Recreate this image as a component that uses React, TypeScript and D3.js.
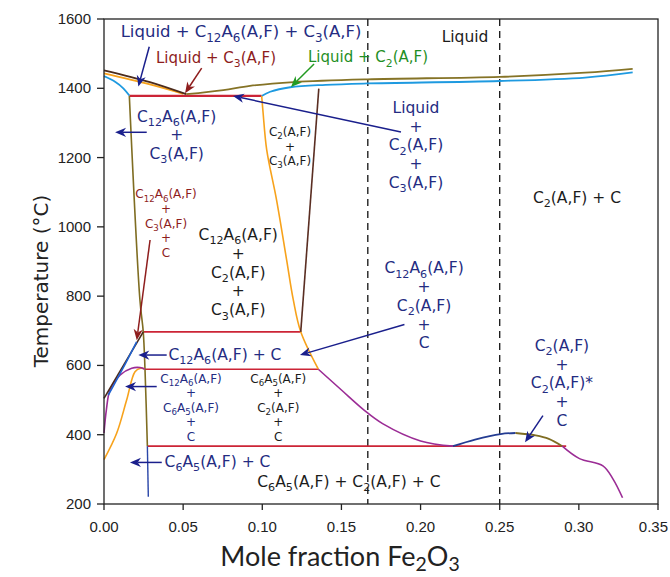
import React from 'react';
import * as d3 from 'd3';

// phase diagram, CaO-Al2O3-Fe2O3 section; points are [mole fraction Fe2O3, T in °C]
const xTicks = [0, 0.05, 0.1, 0.15, 0.2, 0.25, 0.3, 0.35];
const yTicks = [200, 400, 600, 800, 1000, 1200, 1400, 1600];
const dashedAt = [1 / 6, 0.25];

const liquidusLeft = [[0, 1452], [0.029, 1418], [0.052, 1383]];
const orangeTop = [[0, 1443], [0.029, 1411], [0.05, 1384]];
const cyanLeft = [[0, 1435], [0.007, 1419], [0.0122, 1400], [0.016, 1379]];
const liquidusRight = [[0.052, 1383], [0.0754, 1395], [0.0922, 1407], [0.1198, 1418], [0.1664, 1426], [0.25, 1433], [0.304, 1445], [0.334, 1456]];
const cyanRight = [[0.0996, 1378], [0.105, 1390], [0.1177, 1403], [0.14, 1410], [0.1664, 1414], [0.25, 1421], [0.304, 1431], [0.334, 1446]];

const c12a6Edge = [[0.016, 1378], [0.0227, 789], [0.0248, 697], [0.0259, 589], [0.0274, 367]];
const c6a5Edge = [[0.0274, 367], [0.028, 221]];
const c2Edge = [[0.1357, 1399], [0.1243, 697]];
const c2Orange = [[0.0996, 1378], [0.1005, 1330], [0.1028, 1222], [0.109, 1078], [0.1154, 904], [0.1196, 789], [0.1243, 697], [0.1354, 589]];

const purpleMid = [[0.1354, 589], [0.15, 529], [0.1643, 471], [0.176, 432], [0.2, 382], [0.2205, 367]];
const blueArc = [[0.2205, 367], [0.2344, 386], [0.2506, 402], [0.26, 405]];
const oliveArc = [[0.26, 405], [0.2727, 398], [0.281, 388], [0.2895, 367]];
const purpleRight = [[0.2895, 367], [0.3004, 331], [0.3152, 310], [0.3216, 272], [0.3276, 218]];

const brownLow = [[0, 505], [0.0248, 697]];
const blueLow = [[0.0027, 514], [0.012, 592], [0.0206, 668]];
const purpleLow = [[0, 405], [0.0015, 472], [0.0038, 529], [0.0101, 572], [0.0175, 592], [0.0227, 594], [0.0259, 589]];
const orangeLow = [[0, 328], [0.008, 404], [0.0143, 500], [0.0196, 582], [0.0232, 592], [0.0259, 589]];

// three-phase isotherms [x from, x to, T]
const tieLines = [
  [0.016, 0.0996, 1378],
  [0.0248, 0.1243, 697],
  [0.0259, 0.1354, 589],
  [0.0274, 0.292, 367],
];

// arrows [x0, t0, x1 (tip), t1, kind]
const arrows = [
  [0.0286, 1520, 0.0217, 1405, 'navy'],
  [0.0617, 1458, 0.0512, 1386, 'red'],
  [0.1327, 1470, 0.1181, 1404, 'green'],
  [0.1876, 1274, 0.0815, 1378, 'navy'],
  [0.027, 1273, 0.007, 1273, 'navy'],
  [0.0291, 962, 0.0207, 673, 'red'],
  [0.0396, 630, 0.0217, 630, 'navy'],
  [0.1898, 718, 0.1238, 630, 'navy'],
  [0.0333, 539, 0.0133, 539, 'navy'],
  [0.0365, 320, 0.0164, 320, 'navy'],
  [0.2773, 455, 0.266, 378, 'navy'],
];

const labels = [
  { lines: ['Liquid + C12A6(A,F) + C3(A,F)'], x: 0.0866, t: 1547, kind: 'navyTop' },
  { lines: ['Liquid + C3(A,F)'], x: 0.0708, t: 1474, kind: 'red' },
  { lines: ['Liquid + C2(A,F)'], x: 0.1668, t: 1475, kind: 'green' },
  { lines: ['Liquid'], x: 0.2281, t: 1534, kind: 'black' },
  { lines: ['Liquid', '+', 'C2(A,F)', '+', 'C3(A,F)'], x: 0.1971, t: 1329, kind: 'navy' },
  { lines: ['C2(A,F) + C'], x: 0.2988, t: 1069, kind: 'black' },
  { lines: ['C12A6(A,F)', '+', 'C3(A,F)'], x: 0.0459, t: 1304, kind: 'navy' },
  { lines: ['C2(A,F)', '+', 'C3(A,F)'], x: 0.1175, t: 1262, kind: 'blackSmall' },
  { lines: ['C12A6(A,F)', '+', 'C3(A,F)', '+', 'C'], x: 0.0392, t: 1082, kind: 'redSmall' },
  { lines: ['C12A6(A,F)', '+', 'C2(A,F)', '+', 'C3(A,F)'], x: 0.0848, t: 962, kind: 'black' },
  { lines: ['C12A6(A,F) + C'], x: 0.0764, t: 616, kind: 'navy' },
  { lines: ['C12A6(A,F)', '+', 'C6A5(A,F)', '+', 'C'], x: 0.055, t: 550, kind: 'navySmall' },
  { lines: ['C6A5(A,F)', '+', 'C2(A,F)', '+', 'C'], x: 0.1101, t: 550, kind: 'blackSmall' },
  { lines: ['C6A5(A,F) + C'], x: 0.0717, t: 308, kind: 'navy' },
  { lines: ['C6A5(A,F) + C2(A,F) + C'], x: 0.1547, t: 250, kind: 'black' },
  { lines: ['C12A6(A,F)', '+', 'C2(A,F)', '+', 'C'], x: 0.2022, t: 866, kind: 'navy' },
  { lines: ['C2(A,F)', '+', 'C2(A,F)*', '+', 'C'], x: 0.2893, t: 642, kind: 'navy' },
];

const NAVY = '#242c82';
const DARKRED = '#8e1d1d';
const GREEN = '#1f8f25';
const INK = '#1c1c1c';

const labelStyle = {
  navyTop: { size: 16.5, color: NAVY, gap: 19 },
  navy: { size: 15.5, color: NAVY, gap: 18.8 },
  red: { size: 15, color: DARKRED, gap: 19 },
  green: { size: 15, color: GREEN, gap: 19 },
  black: { size: 15.5, color: INK, gap: 18.8 },
  blackSmall: { size: 12, color: INK, gap: 14.5 },
  redSmall: { size: 12, color: DARKRED, gap: 14.6 },
  navySmall: { size: 12, color: NAVY, gap: 14.5 },
};
const arrowColor = { navy: '#1a1f8c', red: '#8e1d1d', green: '#229a22' };

const W = 670;
const H = 577;
const FONT = '"DejaVu Sans", Verdana, sans-serif';

// digits become subscripts
const Chem = ({ text, x, y, size, color, anchor = 'middle', family = FONT, drop = 0.28 }) => {
  const parts = text.split(/(\d+)/).filter(s => s !== '');
  let shift = 0;
  return (
    <text x={x} y={y} fontSize={size} fill={color} textAnchor={anchor} fontFamily={family}>
      {parts.map((p, i) => {
        const sub = /^\d+$/.test(p);
        const target = sub ? size * drop : 0;
        const dy = target - shift;
        shift = target;
        return <tspan key={i} dy={dy} fontSize={sub ? size * 0.72 : size}>{p}</tspan>;
      })}
    </text>
  );
};

const Arrow = ({ x0, y0, x1, y1, color }) => {
  const a = Math.atan2(y1 - y0, x1 - x0);
  const L = 11, hw = 4.6;
  const bx = x1 - L * Math.cos(a), by = y1 - L * Math.sin(a);
  const nx = x1 - L * 0.7 * Math.cos(a), ny = y1 - L * 0.7 * Math.sin(a);
  const px = -Math.sin(a) * hw, py = Math.cos(a) * hw;
  const head = `M${x1},${y1}L${bx + px},${by + py}L${nx},${ny}L${bx - px},${by - py}Z`;
  return (
    <g>
      <line x1={x0} y1={y0} x2={nx} y2={ny} stroke={color} strokeWidth={1.5} />
      <path d={head} fill={color} />
    </g>
  );
};

export default function App() {
  const x = d3.scaleLinear().domain([0, 0.35]).range([104, 658]);
  const y = d3.scaleLinear().domain([200, 1600]).range([504, 19]);

  const smooth = d3.line().x(d => x(d[0])).y(d => y(d[1])).curve(d3.curveCatmullRom.alpha(0.5));
  const straight = d3.line().x(d => x(d[0])).y(d => y(d[1]));

  const curves = [
    { pts: orangeTop, color: '#f7a21b', w: 1.8 },
    { pts: liquidusLeft, color: '#4b2b1c', w: 1.8 },
    { pts: cyanLeft, color: '#1e9ae0', w: 1.8 },
    { pts: liquidusRight, color: '#857326', w: 1.8 },
    { pts: cyanRight, color: '#1e9ae0', w: 1.8 },
    { pts: c12a6Edge, color: '#7f6d22', w: 1.6 },
    { pts: c6a5Edge, color: '#2a46a8', w: 1.4 },
    { pts: c2Orange, color: '#f7a21b', w: 1.6 },
    { pts: c2Edge, color: '#5a2e22', w: 1.6 },
    { pts: purpleMid, color: '#9b2c95', w: 1.6 },
    { pts: blueArc, color: '#243c92', w: 1.8 },
    { pts: oliveArc, color: '#7f6d22', w: 1.8 },
    { pts: purpleRight, color: '#9b2c95', w: 1.6 },
    { pts: orangeLow, color: '#f7a21b', w: 1.6 },
    { pts: purpleLow, color: '#9b2c95', w: 1.6 },
    { pts: brownLow, color: '#4b2b1c', w: 1.6 },
    { pts: blueLow, color: '#2062d0', w: 1.6 },
  ];

  const tickFont = '"Liberation Sans", Arial, sans-serif';
  const lastX = xTicks[xTicks.length - 1];

  return (
    <svg width={W} height={H} style={{ position: 'absolute', left: 0, top: 0, background: '#fff' }}>
      <rect width={W} height={H} fill="#fff" />

      {dashedAt.map((d, i) => (
        <line key={'d' + i} x1={x(d)} x2={x(d)} y1={y(1600)} y2={y(200)}
          stroke="#111" strokeWidth={1.3} strokeDasharray="7,5" />
      ))}

      {tieLines.map((l, i) => (
        <line key={'t' + i} x1={x(l[0])} x2={x(l[1])} y1={y(l[2])} y2={y(l[2])}
          stroke="#cc2436" strokeWidth={i === 0 ? 2.2 : 1.6} />
      ))}

      {curves.map((c, i) => (
        <path key={'c' + i} d={(c.pts.length > 2 ? smooth : straight)(c.pts)}
          fill="none" stroke={c.color} strokeWidth={c.w} strokeLinejoin="round" />
      ))}

      {arrows.map((a, i) => (
        <Arrow key={'a' + i} x0={x(a[0])} y0={y(a[1])} x1={x(a[2])} y1={y(a[3])} color={arrowColor[a[4]]} />
      ))}

      {labels.map((lb, i) => {
        const st = labelStyle[lb.kind];
        return (
          <g key={'l' + i}>
            {lb.lines.map((s, j) => (
              <Chem key={j} text={s} x={x(lb.x)} y={y(lb.t) + j * st.gap} size={st.size} color={st.color} />
            ))}
          </g>
        );
      })}

      {/* frame + axes */}
      <rect x={x(0)} y={y(1600)} width={x(0.35) - x(0)} height={y(200) - y(1600)}
        fill="none" stroke="#222" strokeWidth={1.3} />
      {yTicks.map(t => (
        <g key={'y' + t}>
          <line x1={x(0) - 7} x2={x(0)} y1={y(t)} y2={y(t)} stroke="#222" strokeWidth={1.3} />
          <text x={x(0) - 13} y={y(t) + 5} textAnchor="end" fontSize={15} fontFamily={tickFont} fill="#222">{t}</text>
        </g>
      ))}
      {xTicks.map(t => (
        <g key={'x' + t}>
          <line x1={x(t)} x2={x(t)} y1={y(200)} y2={y(200) + 6} stroke="#222" strokeWidth={1.3} />
          <text x={t === lastX ? W - 2 : x(t)} y={y(200) + 28} textAnchor={t === lastX ? 'end' : 'middle'}
            fontSize={15} fontFamily={tickFont} fill="#222">{t.toFixed(2)}</text>
        </g>
      ))}

      <text transform={`translate(48,${281}) rotate(-90)`} textAnchor="middle" fontSize={20}
        fontFamily={FONT} fill="#222">Temperature (°C)</text>
      <Chem text="Mole fraction Fe2O3" x={340} y={566} size={27} color="#222" drop={0.2}
        family="Lato, 'Open Sans', sans-serif" />
    </svg>
  );
}
